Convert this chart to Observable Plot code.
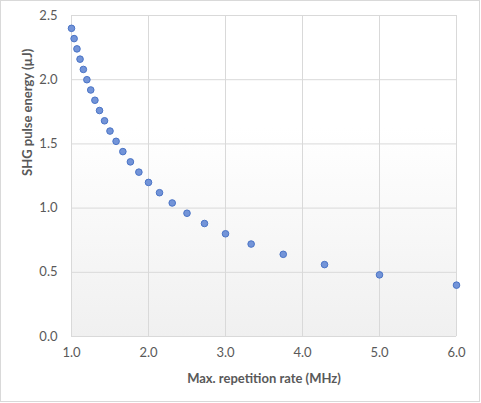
<!DOCTYPE html>
<html>
<head>
<meta charset="utf-8">
<script src="https://cdn.jsdelivr.net/npm/d3@7"></script>
<script src="https://cdn.jsdelivr.net/npm/@observablehq/plot@0.6"></script>
<style>
  html, body { margin: 0; padding: 0; background: #fff; }
  #chart { width: 481px; height: 403px; }
</style>
</head>
<body>
<div id="chart"></div>
<script>
const rate = [1.0, 1.034, 1.071, 1.111, 1.154, 1.2, 1.25, 1.304, 1.364, 1.429, 1.5, 1.579, 1.667, 1.765, 1.875, 2.0, 2.143, 2.308, 2.5, 2.727, 3.0, 3.333, 3.75, 4.286, 5.0, 6.0];
const energy = [2.4, 2.32, 2.24, 2.16, 2.08, 2.0, 1.92, 1.84, 1.76, 1.68, 1.6, 1.52, 1.44, 1.36, 1.28, 1.2, 1.12, 1.04, 0.96, 0.88, 0.8, 0.72, 0.64, 0.56, 0.48, 0.4];
const xTicks = [1, 2, 3, 4, 5, 6];
const yTicks = [0, 0.5, 1.0, 1.5, 2.0, 2.5];
const xLabel = "Max. repetition rate (MHz)";
const yLabel = "SHG pulse energy (µJ)";

const data = rate.map((r, i) => ({rate: r, energy: energy[i]}));
const font = "Lato, 'Open Sans', sans-serif";

const chart = Plot.plot({
  width: 481,
  height: 403,
  marginLeft: 71,
  marginRight: 25,
  marginTop: 15,
  marginBottom: 67,
  style: {fontFamily: font, fontSize: "13px", color: "#595959", background: "transparent", overflow: "visible"},
  x: {domain: [1, 6]},
  y: {domain: [0, 2.5]},
  marks: [
    Plot.frame({fill: "url(#plotbg)", stroke: "none"}),
    Plot.gridX(xTicks, {stroke: "#d9d9d9", strokeOpacity: 1, strokeWidth: 1}),
    Plot.gridY(yTicks, {stroke: "#d9d9d9", strokeOpacity: 1, strokeWidth: 1}),
    Plot.axisX(xTicks, {tickSize: 0, tickPadding: 11, tickFormat: d3.format(".1f"), fill: "#595959", fontSize: 13,
      label: null}),
    Plot.axisY(yTicks, {tickSize: 0, tickPadding: 14, tickFormat: d3.format(".1f"), fill: "#595959", fontSize: 13,
      label: null}),
    Plot.text([xLabel], {frameAnchor: "bottom", dy: 46, text: d => d, fontWeight: "bold", fontSize: 13, fill: "#595959"}),
    Plot.text([yLabel], {frameAnchor: "left", dx: -44, rotate: -90, text: d => d, fontWeight: "bold", fontSize: 13, fill: "#595959"}),
    Plot.dot(data, {x: "rate", y: "energy", r: 3.3, fill: "#7394d8", stroke: "#4a74c6", strokeWidth: 1})
  ]
});

const svg = d3.select(chart);
const defs = svg.insert("defs", ":first-child");
const g = defs.append("linearGradient").attr("id", "plotbg").attr("x1", 0).attr("y1", 0).attr("x2", 0).attr("y2", 1);
g.append("stop").attr("offset", "0%").attr("stop-color", "#ffffff");
g.append("stop").attr("offset", "35%").attr("stop-color", "#ffffff");
g.append("stop").attr("offset", "100%").attr("stop-color", "#f0f0f0");
svg.append("rect").attr("x", 0.5).attr("y", 0.5).attr("width", 479).attr("height", 401)
  .attr("fill", "none").attr("stroke", "#d9d9d9").attr("stroke-width", 1);

document.getElementById("chart").appendChild(chart);
</script>
</body>
</html>
